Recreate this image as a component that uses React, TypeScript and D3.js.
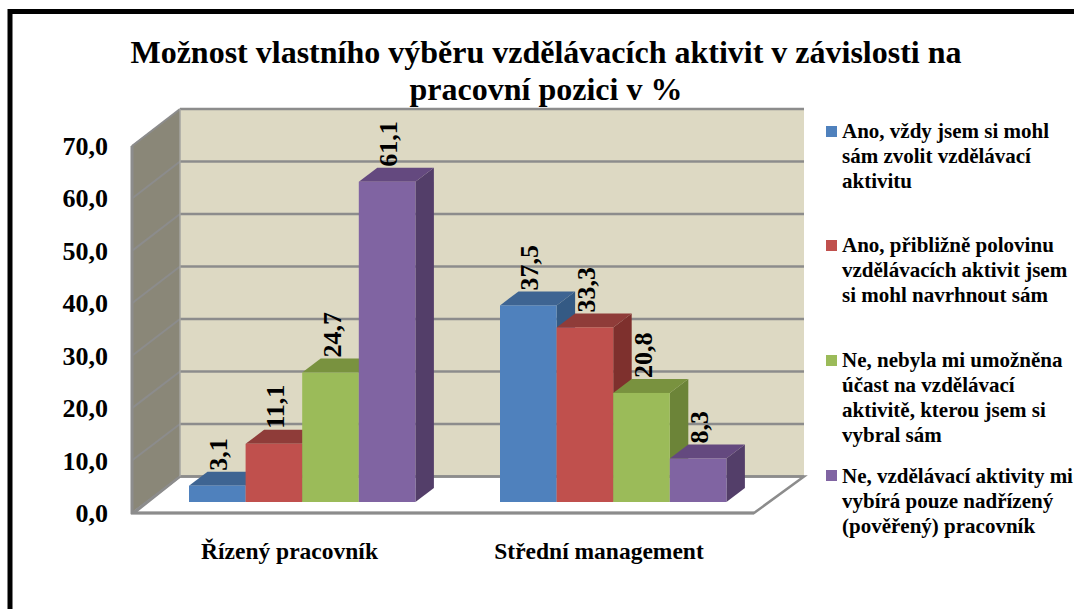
import React from "react";
import * as d3 from "d3";

const categories = ["Řízený pracovník", "Střední management"];
const seriesA = [3.1, 37.5];
const seriesB = [11.1, 33.3];
const seriesC = [24.7, 20.8];
const seriesD = [61.1, 8.3];
const seriesValues = [seriesA, seriesB, seriesC, seriesD];
const valueLabels = [["3,1", "37,5"], ["11,1", "33,3"], ["24,7", "20,8"], ["61,1", "8,3"]];
const ticks = [0, 10, 20, 30, 40, 50, 60, 70];
const tickLabels = ["0,0", "10,0", "20,0", "30,0", "40,0", "50,0", "60,0", "70,0"];
const colors = ["#4F81BD", "#C0504D", "#9BBB59", "#8064A2"];
const topColors = ["#3E6492", "#8F3C39", "#79923F", "#64497F"];
const sideColors = ["#345A84", "#7E302D", "#6C8438", "#533E69"];
const legendLines = [
  ["Ano, vždy jsem si mohl", "sám zvolit vzdělávací", "aktivitu"],
  ["Ano, přibližně polovinu", "vzdělávacích aktivit jsem", "si mohl navrhnout sám"],
  ["Ne, nebyla mi umožněna", "účast na vzdělávací", "aktivitě, kterou jsem si", "vybral sám"],
  ["Ne, vzdělávací aktivity mi", "vybírá pouze nadřízený", "(pověřený) pracovník"],
];
const legendBaselines = [138, 252, 367, 483];
const legendSwatchY = [126, 240, 355, 470];
const titleLines = ["Možnost vlastního výběru vzdělávacích aktivit v závislosti na", "pracovní pozici v %"];

const font = "'Liberation Serif', 'Times New Roman', serif";

export default function App() {
  const yBack = d3.scaleLinear().domain([0, 70]).range([476.5, 109]);
  const yBar = d3.scaleLinear().domain([0, 70]).range([502, 135]);
  const yFront = d3.scaleLinear().domain([0, 70]).range([513, 146]);
  const groupLeft = [189, 500];
  const bw = 56.6;
  const dx = 18.5, dy = 14;
  const poly = (p: number[][]) => d3.line()(p as [number, number][]) + "Z";

  return (
    <svg width={1074} height={609} viewBox="0 0 1074 609" style={{ position: "fixed", left: 0, top: 0, background: "#fff" }} fontFamily={font}>
      <rect x={0} y={0} width={1074} height={609} fill="#fff" />
      <path d="M10 609V11.5H1074" fill="none" stroke="#000" strokeWidth={5} />

      {titleLines.map((t, i) => (
        <text key={t} x={546} y={[63, 100][i]} textAnchor="middle" fontSize={32} fontWeight={700} fill="#000">{t}</text>
      ))}

      <rect x={180} y={109} width={624} height={367.5} fill="#DDD9C3" />
      <path d={poly([[131, 146], [180, 109], [180, 476.5], [131, 513]])} fill="#8A8778" />
      <path d={poly([[134, 513], [180, 476.5], [804, 476.5], [754, 513]])} fill="#fff" stroke="#8C8C8C" strokeWidth={2.5} />
      {ticks.map((t) => (
        <g key={t}>
          <line x1={180} x2={804} y1={yBack(t)} y2={yBack(t)} stroke="#8C8C8C" strokeWidth={2.5} />
          <line x1={132} x2={180} y1={yFront(t)} y2={yBack(t)} stroke="#8C8C8C" strokeWidth={2} />
        </g>
      ))}
      <line x1={180} x2={180} y1={109} y2={476.5} stroke="#A5A5A0" strokeWidth={1.5} />
      <line x1={132} x2={132} y1={146} y2={514} stroke="#8C8C8C" strokeWidth={3} />
      <line x1={131} x2={754} y1={513} y2={513} stroke="#8C8C8C" strokeWidth={3} />

      {categories.map((c, g) =>
        seriesValues.map((vals, s) => {
          const v = vals[g];
          const l = groupLeft[g] + s * bw;
          const r = l + bw;
          const top = yBar(v);
          const base = yBar(0);
          return (
            <g key={c + s}>
              <path d={poly([[r, top], [r + dx, top - dy], [r + dx, base - dy], [r, base]])} fill={sideColors[s]} />
              <path d={poly([[l, top], [l + dx, top - dy], [r + dx, top - dy], [r, top]])} fill={topColors[s]} />
              <rect x={l} y={top} width={bw} height={base - top} fill={colors[s]} />
            </g>
          );
        })
      )}

      {categories.map((c, g) =>
        seriesValues.map((vals, s) => {
          const l = groupLeft[g] + s * bw;
          const tx = l + bw / 2 + 10;
          const ty = yBar(vals[g]) - 15;
          return (
            <text key={c + s} transform={`translate(${tx},${ty}) rotate(-90)`} fontSize={26} fontWeight={700} fill="#000">
              {valueLabels[s][g]}
            </text>
          );
        })
      )}

      {ticks.map((t, i) => (
        <text key={t} x={108} y={yFront(t) + 9} textAnchor="end" fontSize={26} fontWeight={700} fill="#000">{tickLabels[i]}</text>
      ))}

      {categories.map((c, i) => (
        <text key={c} x={[289.5, 599][i]} y={559} textAnchor="middle" fontSize={23.5} fontWeight={700} fill="#000">{c}</text>
      ))}

      {legendLines.map((lines, s) => (
        <g key={s}>
          <rect x={826} y={legendSwatchY[s]} width={11} height={11} fill={colors[s]} />
          {lines.map((t, i) => (
            <text key={t} x={842} y={legendBaselines[s] + i * 25} fontSize={21} fontWeight={700} fill="#000">{t}</text>
          ))}
        </g>
      ))}
    </svg>
  );
}
